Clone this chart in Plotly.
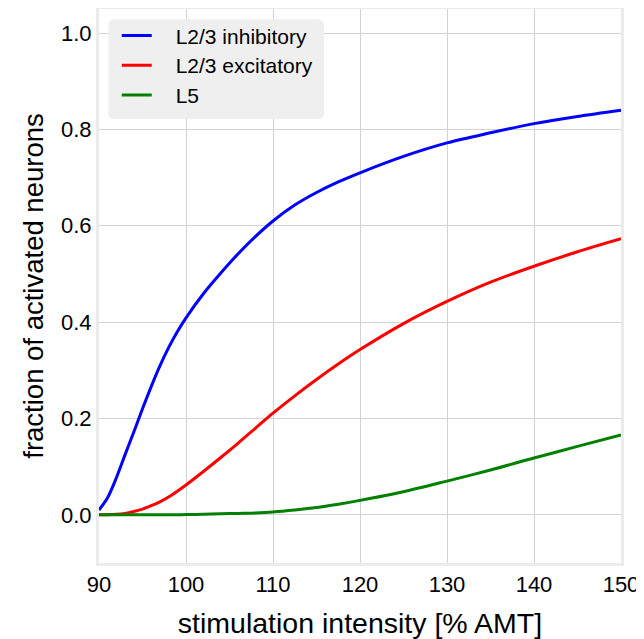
import plotly.graph_objects as go

stim = [90, 91, 92, 93, 94, 95, 96, 97, 98, 99, 100, 102, 104, 106, 108, 110,
        112.5, 115, 117.5, 120, 125, 130, 135, 140, 145, 150]
l23_inh = [0.01, 0.036, 0.077, 0.125, 0.172, 0.22, 0.266, 0.309, 0.347, 0.38, 0.409,
           0.459, 0.502, 0.542, 0.578, 0.61, 0.643, 0.669, 0.691, 0.71, 0.744, 0.772,
           0.793, 0.812, 0.827, 0.84]
l23_exc = [0.0, 0.0, 0.001, 0.003, 0.007, 0.012, 0.019, 0.027, 0.037, 0.049, 0.062,
           0.09, 0.119, 0.149, 0.18, 0.211, 0.247, 0.281, 0.313, 0.343, 0.397, 0.443,
           0.483, 0.516, 0.546, 0.573]
l5 = [0.0, 0.0, 0.0, 0.0, 0.0, 0.0, 0.0, 0.0, 0.0, 0.0, 0.0005, 0.001, 0.002, 0.003,
      0.004, 0.006, 0.01, 0.015, 0.022, 0.03, 0.048, 0.07, 0.093, 0.118, 0.142, 0.166]

series = [("L2/3 inhibitory", l23_inh, "#0000ff"),
          ("L2/3 excitatory", l23_exc, "#ff0000"),
          ("L5", l5, "#008000")]

FONT = "Liberation Sans, Arial, Helvetica, sans-serif"
PAD = "\u2002\u2009\u2009"

fig = go.Figure()
for name, vals, col in series:
    fig.add_trace(go.Scatter(
        x=stim, y=vals, mode="lines",
        name='<span style="font-size:21px">' + PAD + name + '</span>',
        line=dict(color=col, width=3, shape="spline", smoothing=0.9)))

axis_common = dict(showline=True, mirror=True, linecolor="#ebebeb", linewidth=3,
                   showgrid=True, gridcolor="#d3d3d3", gridwidth=1, zeroline=False,
                   ticks="", automargin=False,
                   tickfont=dict(family=FONT, size=22, color="black"))

# legend background box (rounded), in paper coordinates
W, H = 522.0, 554.0
bx0, bx1 = 9.3 / W, 225.0 / W
by0, by1 = 1 - 110.0 / H, 1 - 10.3 / H
rx, ry = 6 / W, 6 / H
box_path = (f"M{bx0+rx},{by1} L{bx1-rx},{by1} Q{bx1},{by1} {bx1},{by1-ry} "
            f"L{bx1},{by0+ry} Q{bx1},{by0} {bx1-rx},{by0} L{bx0+rx},{by0} "
            f"Q{bx0},{by0} {bx0},{by0+ry} L{bx0},{by1-ry} Q{bx0},{by1} {bx0+rx},{by1} Z")

fig.update_layout(
    width=636, height=631,
    margin=dict(l=90.7, r=23.3, t=1, b=76),
    paper_bgcolor="white", plot_bgcolor="white",
    font=dict(family=FONT, color="black"),
    xaxis=dict(range=[90, 150], tickvals=[90, 100, 110, 120, 130, 140, 150],
               title=dict(text="stimulation intensity [% AMT]",
                          font=dict(family=FONT, size=28.5, color="black"), standoff=18),
               **axis_common),
    yaxis=dict(range=[-0.1, 1.05], tickvals=[0, 0.2, 0.4, 0.6, 0.8, 1.0], tickformat=".1f",
               title=dict(text="fraction of activated neurons",
                          font=dict(family=FONT, size=27.5, color="black"), standoff=10),
               **axis_common),
    shapes=[dict(type="path", xref="paper", yref="paper", path=box_path,
                 fillcolor="#efefef", line=dict(width=0), layer="above")],
    legend=dict(x=0.034, y=0.988, xanchor="left", yanchor="top",
                bgcolor="rgba(0,0,0,0)", borderwidth=0,
                font=dict(family=FONT, size=20.6, color="black")),
    showlegend=True,
)

fig.write_html("out.html")
